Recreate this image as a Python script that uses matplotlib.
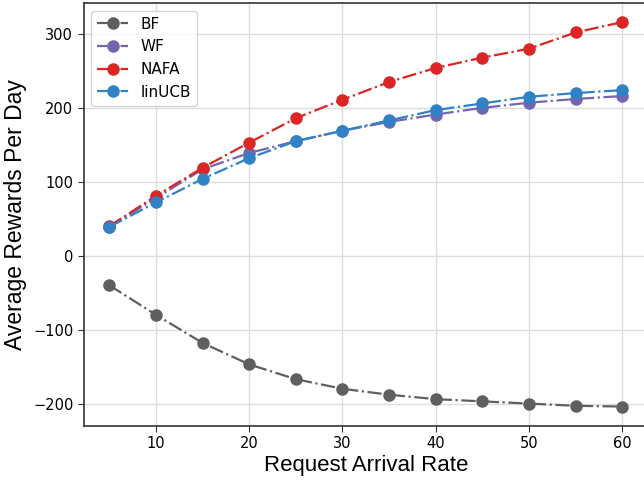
import matplotlib
matplotlib.use("Agg")
import matplotlib.pyplot as plt

# request arrival rate
rates = [5, 10, 15, 20, 25, 30, 35, 40, 45, 50, 55, 60]

bf = [-40, -80, -118, -147, -167, -180, -188, -194, -197, -200, -203, -204]
wf = [39, 78, 117, 139, 155, 169, 181, 191, 200, 207, 212, 216]
nafa = [40, 81, 119, 153, 186, 211, 235, 254, 268, 280, 302, 316]
linucb = [39, 72, 104, 132, 155, 169, 183, 197, 206, 215, 220, 224]

labels = ["BF", "WF", "NAFA", "linUCB"]
colors = ["#5f5f5f", "#7565b0", "#dc2626", "#3182c4"]

fig = plt.figure(figsize=(6.44, 4.8), dpi=100)
ax = fig.add_axes([0.130, 0.113, 0.876, 0.881])

for ys, lab, c in zip([bf, wf, nafa, linucb], labels, colors):
    ax.plot(rates, ys, linestyle="-.", marker="o", markersize=8, linewidth=1.6,
            color=c, label=lab)

ax.grid(True, color="#dddddd", linewidth=1.0)
ax.set_axisbelow(True)
for sp in ax.spines.values():
    sp.set_color("#333333")
    sp.set_linewidth(1.2)

ax.set_xticks([10, 20, 30, 40, 50, 60])
ax.set_yticks([-200, -100, 0, 100, 200, 300])
ax.tick_params(labelsize=10.5, length=4, color="#333333")

ax.set_xlabel("Request Arrival Rate", fontsize=16, family="Liberation Sans", labelpad=3)
ax.set_ylabel("Average Rewards Per Day", fontsize=16.5, family="Liberation Sans", labelpad=4)

leg = ax.legend(loc="upper left", fontsize=11, framealpha=0.8, edgecolor="#cccccc")

fig.savefig("out.png", dpi=100)
